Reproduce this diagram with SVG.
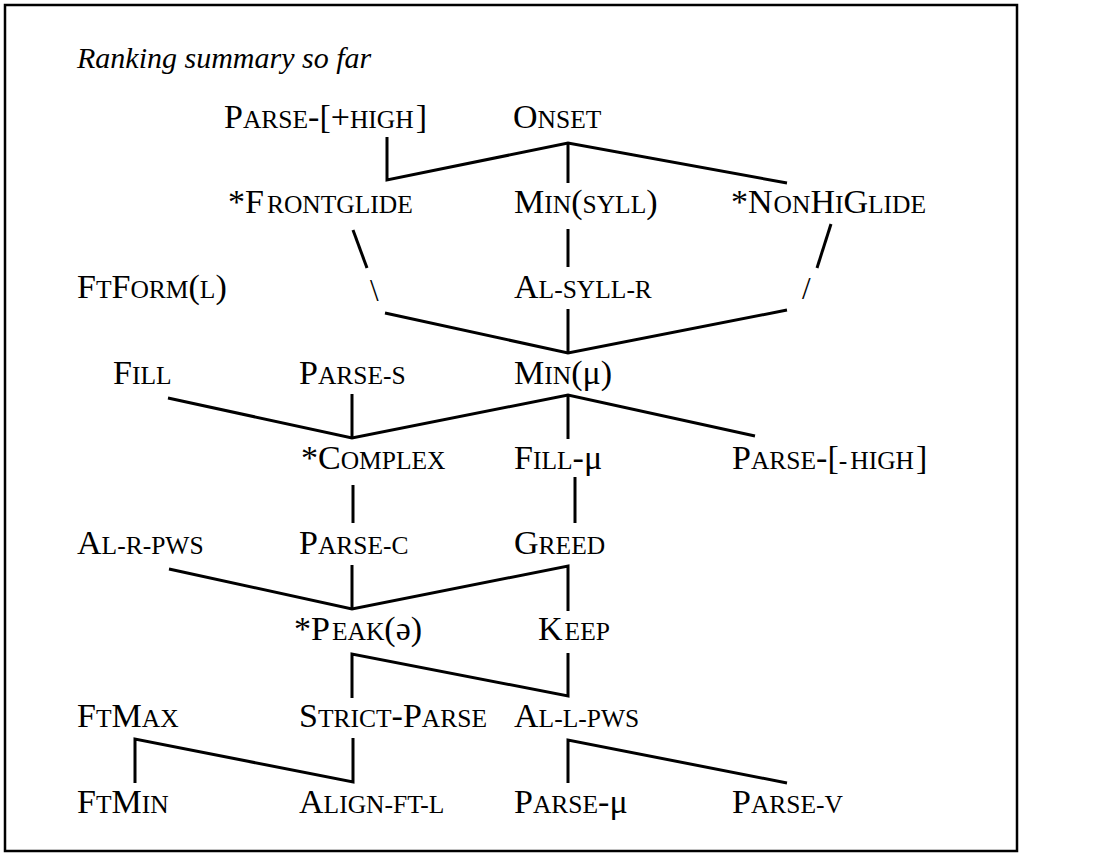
<svg xmlns="http://www.w3.org/2000/svg" width="1100" height="854" viewBox="0 0 1100 854">
<style>
text{font-family:"Liberation Serif","Times New Roman",serif;font-size:34px;fill:#000}
.s{font-size:25.5px}
.title{font-style:italic;font-size:30px}
.c line,.c polyline{stroke:#000;stroke-width:3;fill:none;stroke-linecap:butt;stroke-linejoin:miter}
.g{font-size:31px}
</style>
<rect x="5" y="5" width="1012" height="846" fill="#fff" stroke="#000" stroke-width="2.5"/>
<text class="title" x="77" y="68">Ranking summary so far</text>
<g id="n-parse-high"><text x="224" y="128">P<tspan class="s">ARSE</tspan>-[+<tspan class="s">HIGH</tspan><tspan dx="2">]</tspan></text></g>
<g id="n-onset"><text x="513" y="128">O<tspan class="s">NSET</tspan></text></g>
<g id="n-frontglide"><text x="228" y="213">*F<tspan class="s" dx="3">RONTGLIDE</tspan></text></g>
<g id="n-minsyll"><text x="514" y="213">M<tspan class="s">IN</tspan>(<tspan class="s">SYLL</tspan>)</text></g>
<g id="n-nonhiglide"><text x="731" y="213">*N<tspan class="s" dx="1">ON</tspan>H<tspan class="s">I</tspan>G<tspan class="s">LIDE</tspan></text></g>
<g id="n-ftform"><text x="77" y="298">F<tspan class="s">T</tspan>F<tspan class="s">ORM</tspan>(<tspan class="s">L</tspan>)</text></g>
<g id="n-alsyllr"><text x="514" y="298">A<tspan class="s">L-SYLL-R</tspan></text></g>
<g id="n-min-mu"><text x="514" y="384">M<tspan class="s">IN</tspan>(μ)</text></g>
<g id="n-fill"><text x="113" y="384">F<tspan class="s">ILL</tspan></text></g>
<g id="n-parse-s"><text x="299" y="384">P<tspan class="s">ARSE-S</tspan></text></g>
<g id="n-complex"><text x="301" y="469">*C<tspan class="s">OMPLEX</tspan></text></g>
<g id="n-fill-mu"><text x="514" y="469">F<tspan class="s">ILL</tspan>-μ</text></g>
<g id="n-parse-nhigh"><text x="732" y="469">P<tspan class="s">ARSE</tspan>-[<tspan class="s">-</tspan><tspan class="s" dx="3">HIGH</tspan><tspan dx="2">]</tspan></text></g>
<g id="n-alrpws"><text x="77" y="554">A<tspan class="s">L-R-PWS</tspan></text></g>
<g id="n-parse-c"><text x="299" y="554">P<tspan class="s">ARSE-C</tspan></text></g>
<g id="n-greed"><text x="514" y="554">G<tspan class="s">REED</tspan></text></g>
<g id="n-peak"><text x="294" y="640">*P<tspan class="s" dx="2">EAK</tspan>(ə)</text></g>
<g id="n-keep"><text x="538" y="640">K<tspan class="s" dx="2">EEP</tspan></text></g>
<g id="n-ftmax"><text x="77" y="727">F<tspan class="s">T</tspan>M<tspan class="s">AX</tspan></text></g>
<g id="n-strictparse"><text x="299" y="727">S<tspan class="s">TRICT</tspan>-P<tspan class="s">ARSE</tspan></text></g>
<g id="n-allpws"><text x="514" y="727">A<tspan class="s">L-L-PWS</tspan></text></g>
<g id="n-ftmin"><text x="77" y="813">F<tspan class="s">T</tspan>M<tspan class="s">IN</tspan></text></g>
<g id="n-alignftl"><text x="299" y="813">A<tspan class="s">LIGN-FT-L</tspan></text></g>
<g id="n-parse-mu"><text x="514" y="813">P<tspan class="s">ARSE</tspan>-μ</text></g>
<g id="n-parse-v"><text x="732" y="813">P<tspan class="s">ARSE-V</tspan></text></g>
<g id="slashes">
<text class="g" x="370" y="301">\</text>
<text class="g" x="802" y="299">/</text>
</g>
<g id="connectors" class="c">
<polyline points="387,137 387,180 568,143 787,183"/>
<line x1="568" y1="143" x2="568" y2="183"/>
<line x1="568" y1="229" x2="568" y2="267"/>
<line x1="353" y1="230" x2="367" y2="268"/>
<line x1="831" y1="224" x2="817" y2="268"/>
<polyline points="385,313 568,353 787,310"/>
<line x1="568" y1="309" x2="568" y2="353"/>
<polyline points="168,398 352,438 568,395 755,436"/>
<line x1="352" y1="394" x2="352" y2="438"/>
<line x1="568" y1="395" x2="568" y2="439"/>
<line x1="353" y1="485" x2="353" y2="523"/>
<line x1="575" y1="477" x2="575" y2="523"/>
<polyline points="169,569 352,609 568,566 568,611"/>
<line x1="352" y1="565" x2="352" y2="609"/>
<polyline points="352,698 352,654 568,696 568,653"/>
<polyline points="135,783 135,739 353,782 353,738"/>
<polyline points="568,783 568,740 787,783"/>
</g>
</svg>
